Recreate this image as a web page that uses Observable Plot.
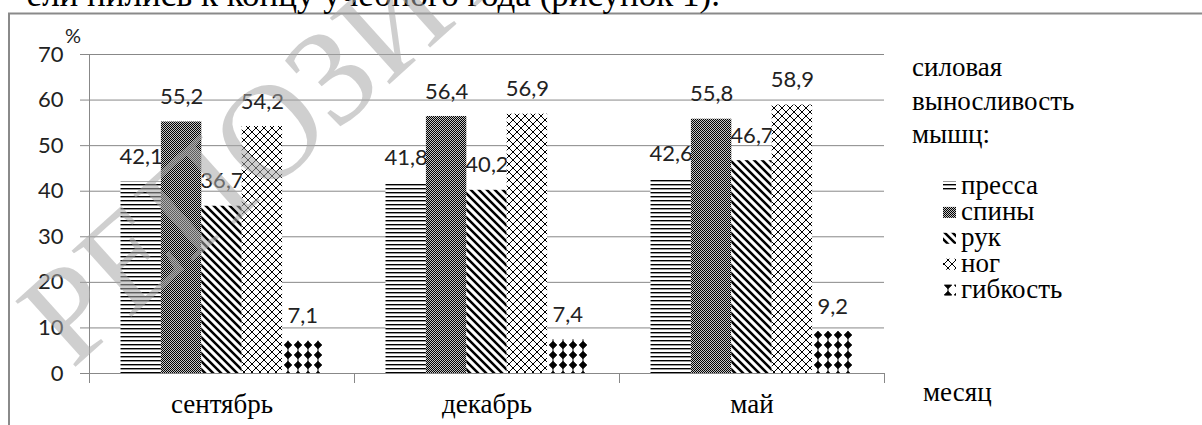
<!DOCTYPE html>
<html><head><meta charset="utf-8">
<script src="https://cdn.jsdelivr.net/npm/d3@7"></script>
<script src="https://cdn.jsdelivr.net/npm/@observablehq/plot@0.6"></script>
<style>
html,body{margin:0;padding:0;background:#fff;width:1202px;height:425px;overflow:hidden;}
#wrap{position:relative;width:1202px;height:425px;}
#chart{position:absolute;left:0;top:0;}
#overlay{position:absolute;left:0;top:0;pointer-events:none;}
.serif{font-family:"Liberation Serif","Times New Roman",serif;}
</style></head>
<body><div id="wrap"><div id="chart"></div><svg id="overlay" width="1202" height="425"></svg></div>
<script>
// ---- data ----
const months = ["сентябрь", "декабрь", "май"];
const seriesNames = ["пресса", "спины", "рук", "ног", "гибкость"];
const press = [42.1, 41.8, 42.6];
const back = [55.2, 56.4, 55.8];
const arms = [36.7, 40.2, 46.7];
const legs = [54.2, 56.9, 58.9];
const flex = [7.1, 7.4, 9.2];
const yTicks = [0, 10, 20, 30, 40, 50, 60, 70];
const legendTitle = ["силовая", "выносливость", "мышц:"];
const yUnit = "%";
const xTitle = "месяц";
const headerText = "ели нились к концу учебного года (рисунок 1).";
const watermark = "РЕПОЗИТОРИЙ";

const SERIF = '"Liberation Serif", "Times New Roman", serif';
const seriesValues = [press, back, arms, legs, flex];
const rows = months.flatMap((m, i) => seriesNames.map((s, j) => ({month: m, series: s, value: seriesValues[j][i]})));
const fmt = v => v.toFixed(1).replace(".", ",");
const patId = s => `url(#pat${seriesNames.indexOf(s)})`;

const plot = Plot.plot({
  width: 1202, height: 425,
  marginLeft: 89, marginRight: 318, marginTop: 54, marginBottom: 52,
  style: {background: "transparent", overflow: "visible"},
  fx: {domain: months, padding: 0, round: false},
  x: {domain: seriesNames, paddingInner: 0, paddingOuter: 0.78, round: false, axis: null},
  y: {domain: [0, 70], axis: null},
  color: {type: "identity"},
  marks: [
    Plot.gridY(yTicks.filter(v => v > 0), {stroke: "#888", strokeOpacity: 1, strokeWidth: 1}),
    Plot.ruleY([0], {stroke: "#888"}),
    Plot.axisY(yTicks, {tickSize: 9, tickPadding: 17, stroke: "#888", fill: "#222", fontSize: 22, fontFamily: "Lato", label: null, tickFormat: d => String(d)}),
    Plot.axisFx({anchor: "bottom", tickSize: 0, tickPadding: 20, fontSize: 27, fontFamily: SERIF, fill: "#000", label: null}),
    Plot.text(rows, {fx: "month", x: "series", y: "value", text: d => fmt(d.value), dy: -25, fontSize: 22, fontFamily: "Lato", fill: "#222"}),
    Plot.barY(rows, {fx: "month", x: "series", y: "value", fill: d => patId(d.series)})
  ]
});
document.getElementById("chart").appendChild(plot);

// ---- patterns ----
const svg = d3.select(plot);
const defs = svg.insert("defs", ":first-child");
function pat(id, w, h, x = 0) {
  const p = defs.append("pattern").attr("id", id).attr("patternUnits", "userSpaceOnUse").attr("x", x).attr("width", w).attr("height", h);
  p.append("rect").attr("width", w).attr("height", h).attr("fill", "#fff");
  return p;
}
let p = pat("pat0", 8, 4);
p.append("rect").attr("width", 8).attr("height", 1.4).attr("fill", "#000");
p = pat("pat1", 2, 2);
p.select("rect").attr("fill", "#c4c4c4");
p.append("rect").attr("x", 0).attr("y", 0).attr("width", 1).attr("height", 1).attr("fill", "#000");
p.append("rect").attr("x", 1).attr("y", 1).attr("width", 1).attr("height", 1).attr("fill", "#000");
p = pat("pat2", 8, 8);
p.append("path").attr("d", "M-2,-2L10,10M-2,6L2,10M6,-2L10,2").attr("stroke", "#000").attr("stroke-width", 2.5);
p = pat("pat3", 8, 8);
p.append("path").attr("d", "M0,0L8,8M8,0L0,8").attr("stroke", "#000").attr("stroke-width", 1);
p = pat("pat4", 10, 10, 3);
p.append("path").attr("d", "M5,0V10").attr("stroke", "#000").attr("stroke-width", 1);
p.append("path").attr("d", "M5,1.2L8.8,5L5,8.8L1.2,5Z").attr("fill", "#000").attr("stroke", "#000").attr("stroke-width", 0.8).attr("stroke-linejoin", "round");

// ---- axis line & category boundary ticks from Plot scales ----
const fx = plot.scale("fx"), ys = plot.scale("y");
const y0 = ys.apply(0);
const g = svg.append("g").attr("stroke", "#888").attr("fill", "none");
const xLeft = fx.apply(months[0]);
g.append("line").attr("x1", xLeft + 0.5).attr("x2", xLeft + 0.5).attr("y1", ys.apply(70)).attr("y2", y0 + 9);
const edges = months.map(m => fx.apply(m)).concat([fx.apply(months[months.length - 1]) + fx.bandwidth]);
edges.forEach(x => g.append("line").attr("x1", x + 0.5).attr("x2", x + 0.5).attr("y1", y0).attr("y2", y0 + 10));

// ---- overlay: frame, header, legend, titles, watermark ----
const ov = d3.select("#overlay");
ov.append("path").attr("d", "M9,425V13.5H1202").attr("stroke", "#8a8a8a").attr("stroke-width", 2).attr("fill", "none");
ov.append("text").attr("class", "serif").attr("x", 720).attr("y", 6).attr("text-anchor", "end").attr("font-size", 35).attr("fill", "#000").text(headerText);
ov.append("text").attr("x", 65).attr("y", 43).attr("font-family", "Lato").attr("font-size", 20).attr("fill", "#222").text(yUnit);
function serifText(x, y, t) {
  return ov.append("text").attr("class", "serif").attr("font-size", 27).attr("fill", "#000").attr("x", x).attr("y", y).text(t);
}
legendTitle.forEach((t, i) => serifText(912, 76 + i * 33.5, t));
seriesNames.forEach((s, i) => {
  const b = 194 + i * 25.9;
  ov.append("rect").attr("x", 943).attr("y", b - 13).attr("width", 13).attr("height", 11).attr("fill", patId(s));
  serifText(961, b, s);
});
serifText(923, 401, xTitle);
ov.append("text").attr("class", "serif").attr("transform", "translate(72,370) rotate(-42)").attr("font-size", 136)
  .attr("fill", "#a8a8a8").attr("fill-opacity", 0.55).text(watermark);
</script></body></html>
